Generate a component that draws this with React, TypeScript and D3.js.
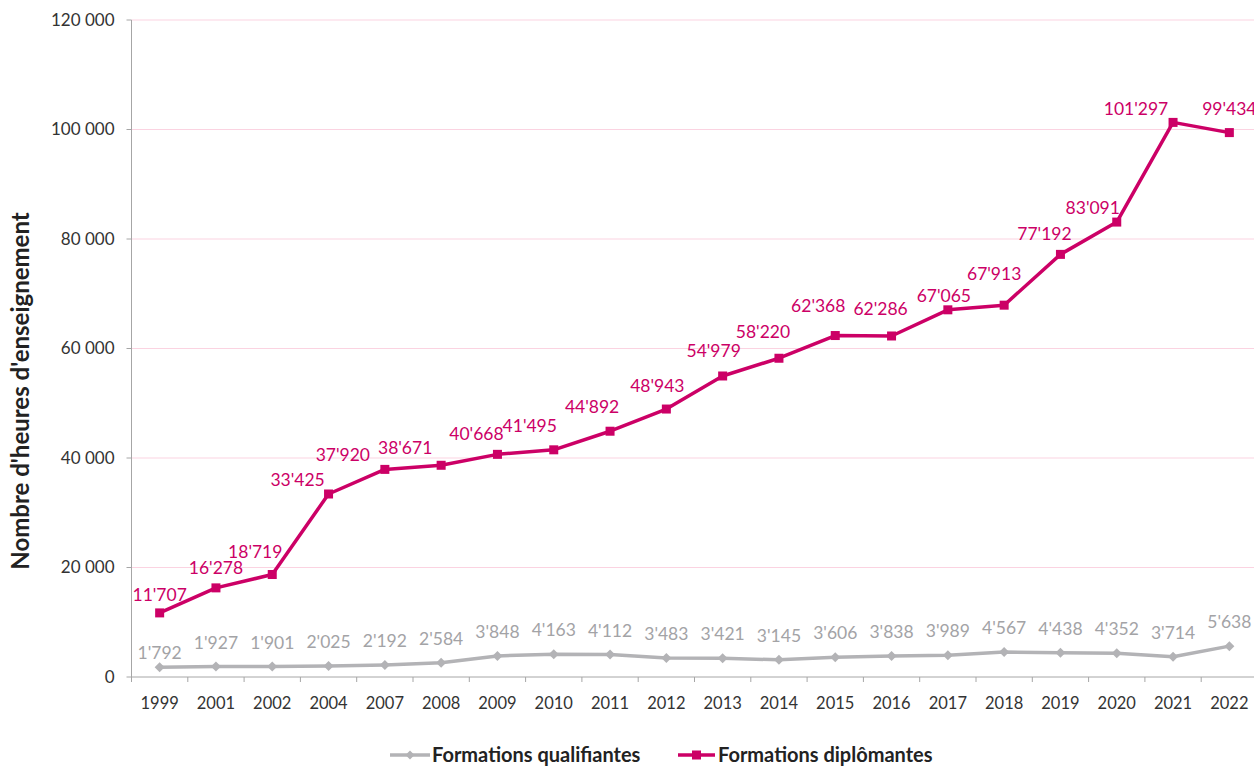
import React from "react"
import * as d3 from "d3"

const years = ["1999", "2001", "2002", "2004", "2007", "2008", "2009", "2010", "2011", "2012", "2013", "2014", "2015", "2016", "2017", "2018", "2019", "2020", "2021", "2022"]
const qualifiantes = [1792, 1927, 1901, 2025, 2192, 2584, 3848, 4163, 4112, 3483, 3421, 3145, 3606, 3838, 3989, 4567, 4438, 4352, 3714, 5638]
const diplomantes = [11707, 16278, 18719, 33425, 37920, 38671, 40668, 41495, 44892, 48943, 54979, 58220, 62368, 62286, 67065, 67913, 77192, 83091, 101297, 99434]
const yTicks = [0, 20000, 40000, 60000, 80000, 100000, 120000]

// label nudges (px) for the pink series, as placed in the original chart
const dipLabelShift: [number, number][] = [
  [0, -18], [0, -20], [-17, -23], [-31, -14], [-42, -15], [-36, -17], [-21, -20], [-24, -24],
  [-18, -24], [-9, -23], [-9, -25], [-16, -26], [-17, -30], [-11, -27], [-4, -14], [-10, -31],
  [-16, -20], [-24, -14], [-37, -14], [0, -24],
]

const PINK = "#cc0066"
const GREY = "#b3b3b6"
const FONT = "Lato, 'Open Sans', sans-serif"

const fmtTick = (v: number) => d3.format(",")(v).replace(/,/g, " ")
const fmtLabel = (v: number) => d3.format(",")(v).replace(/,/g, "'")

export default function App() {
  const width = 1254
  const height = 766
  const left = 131.5
  const top = 20
  const bottom = 677

  const x = d3.scaleBand<string>().domain(years).range([left, 1257.5])
  const cx = (d: string) => (x(d) ?? 0) + x.bandwidth() / 2
  const y = d3.scaleLinear().domain([0, 120000]).range([bottom, top])

  const line = d3.line<number>().x((_, i) => cx(years[i])).y((v) => y(v))

  const boundaries = years.map((d) => x(d) ?? 0).concat([(x(years[years.length - 1]) ?? 0) + x.bandwidth()])

  const diamond = (px: number, py: number, r: number) =>
    `M${px},${py - r}L${px + r},${py}L${px},${py + r}L${px - r},${py}Z`

  return (
    <svg width={width} height={height} style={{ position: "absolute", left: 0, top: 0, background: "#fff" }} fontFamily={FONT}>
      {/* grid */}
      {yTicks.slice(1).map((t) => (
        <line key={t} x1={left} x2={width} y1={y(t)} y2={y(t)} stroke="#fbd3e1" strokeWidth={1} />
      ))}
      {/* y axis */}
      <line x1={left} x2={left} y1={top} y2={bottom} stroke="#a6a6a6" />
      {yTicks.map((t) => (
        <g key={t}>
          <line x1={left - 5} x2={left} y1={y(t)} y2={y(t)} stroke="#a6a6a6" />
          <text x={left - 17} y={y(t)} dy="0.35em" textAnchor="end" fontSize={17} fill="#333">
            {fmtTick(t)}
          </text>
        </g>
      ))}
      {/* x axis */}
      <line x1={left} x2={width} y1={bottom} y2={bottom} stroke="#a6a6a6" />
      {boundaries.map((b, i) => (
        <line key={i} x1={b} x2={b} y1={bottom} y2={bottom + 5} stroke="#a6a6a6" />
      ))}
      {years.map((d) => (
        <text key={d} x={cx(d)} y={703} dy="0.35em" textAnchor="middle" fontSize={16.5} fill="#333">
          {d}
        </text>
      ))}
      {/* axis title */}
      <text
        transform={`translate(21,391) rotate(-90)`}
        dy="0.35em"
        textAnchor="middle"
        fontSize={24}
        fontWeight="bold"
        fill="#222"
      >
        Nombre d'heures d'enseignement
      </text>

      {/* grey series */}
      <path d={line(qualifiantes) ?? ""} fill="none" stroke={GREY} strokeWidth={3.5} strokeLinejoin="round" />
      {qualifiantes.map((v, i) => (
        <path key={i} d={diamond(cx(years[i]), y(v), 5)} fill={GREY} />
      ))}
      {qualifiantes.map((v, i) => (
        <text key={i} x={cx(years[i])} y={y(v) + (i === 0 ? -14 : -24)} dy="0.35em" textAnchor="middle" fontSize={17.5} fill="#a3a3a6">
          {fmtLabel(v)}
        </text>
      ))}

      {/* pink series */}
      <path d={line(diplomantes) ?? ""} fill="none" stroke={PINK} strokeWidth={3.5} strokeLinejoin="round" />
      {diplomantes.map((v, i) => (
        <rect key={i} x={cx(years[i]) - 4.5} y={y(v) - 4.5} width={9} height={9} fill={PINK} />
      ))}
      {diplomantes.map((v, i) => (
        <text
          key={i}
          x={cx(years[i]) + dipLabelShift[i][0]}
          y={y(v) + dipLabelShift[i][1]}
          dy="0.35em"
          textAnchor="middle"
          fontSize={17.5}
          fill={PINK}
        >
          {fmtLabel(v)}
        </text>
      ))}

      {/* legend */}
      <g fontSize={20} fontWeight="bold" fill="#222">
        <line x1={390} x2={430} y1={755} y2={755} stroke={GREY} strokeWidth={3.5} />
        <path d={diamond(410, 755, 4.5)} fill={GREY} />
        <text x={432} y={755} dy="0.35em">Formations qualifiantes</text>
        <line x1={678} x2={715} y1={755} y2={755} stroke={PINK} strokeWidth={3.5} />
        <rect x={692} y={750.5} width={9} height={9} fill={PINK} />
        <text x={718} y={755} dy="0.35em">Formations diplômantes</text>
      </g>
    </svg>
  )
}
